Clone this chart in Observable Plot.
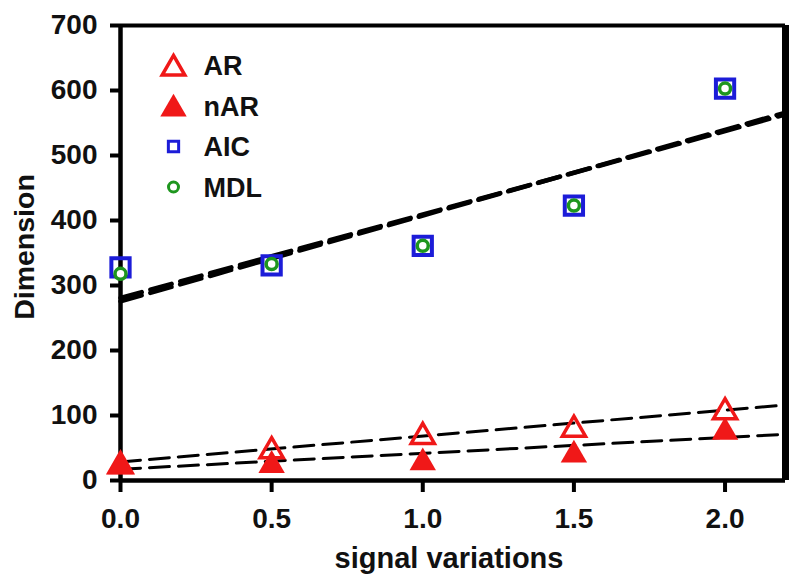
<!DOCTYPE html>
<html>
<head>
<meta charset="utf-8">
<script src="https://cdn.jsdelivr.net/npm/d3@7"></script>
<script src="https://cdn.jsdelivr.net/npm/@observablehq/plot@0.6"></script>
<style>
  html, body { margin: 0; padding: 0; background: #fff; }
</style>
</head>
<body>
<div id="chart"></div>
<script>
// ---- data ----
const signalVariations = [0.0, 0.5, 1.0, 1.5, 2.0];
const arValues  = [27, 50, 72, 83, 110];
const narValues = [26, 28, 32, 44, 79];
const aicValues = [328, 331, 361, 423, 603];
const mdlValues = [318, 333, 361, 423, 603];
const xTicks = [0.0, 0.5, 1.0, 1.5, 2.0];
const yTicks = [0, 100, 200, 300, 400, 500, 600, 700];
const legendNames = ["AR", "nAR", "AIC", "MDL"];
const xDomain = [0, 2.2];
const yDomain = [0, 700];

const RED = "#f01818", BLUE = "#1c1cd8", GREEN = "#1e961e";

const rows = (ys) => signalVariations.map((x, i) => ({x, y: ys[i]}));
// least-squares fit, drawn across the whole x domain
function fitLine(ys) {
  const xs = signalVariations;
  const mx = d3.mean(xs), my = d3.mean(ys);
  const b = d3.sum(xs, (x, i) => (x - mx) * (ys[i] - my)) / d3.sum(xs, x => (x - mx) ** 2);
  const a = my - b * mx;
  return xDomain.map(x => ({x, y: a + b * x}));
}

const legendStyle = {
  AR:  {symbol: "triangle", r: 8.4, stroke: RED, fill: "white", strokeWidth: 3.5},
  nAR: {symbol: "triangle", r: 9.8, fill: RED, stroke: "none"},
  AIC: {symbol: "square", r: 5.8, stroke: BLUE, fill: "none", strokeWidth: 3},
  MDL: {symbol: "circle", r: 5, stroke: GREEN, fill: "none", strokeWidth: 3}
};

const legendMarks = legendNames.flatMap((name, i) => [
  Plot.dot([name], {frameAnchor: "top-left", dx: 53, dy: 40 + i * 40.5 + (name === "AR" || name === "nAR" ? 3 : 0), ...legendStyle[name]}),
  Plot.text([name], {frameAnchor: "top-left", dx: 83, dy: 41 + i * 40.5, text: d => d, textAnchor: "start", lineAnchor: "middle", fontSize: 27, fontWeight: "bold", fill: "#111"})
]);

const chart = Plot.plot({
  width: 800,
  height: 587,
  marginLeft: 120,
  marginRight: 15,
  marginTop: 25,
  marginBottom: 107,
  x: {domain: xDomain},
  y: {domain: yDomain},
  style: {fontFamily: "'Liberation Sans', Arial, sans-serif", fontWeight: "bold", background: "white", overflow: "visible"},
  marks: [
    // regression lines
    Plot.line(fitLine(aicValues), {x: "x", y: "y", stroke: "black", strokeWidth: 4.5, strokeDasharray: "22,9"}),
    Plot.line(fitLine(mdlValues), {x: "x", y: "y", stroke: "black", strokeWidth: 4.5, strokeDasharray: "22,9"}),
    Plot.line(fitLine(arValues), {x: "x", y: "y", stroke: "black", strokeWidth: 3, strokeDasharray: "20,9"}),
    Plot.line(fitLine(narValues), {x: "x", y: "y", stroke: "black", strokeWidth: 3, strokeDasharray: "20,9"}),
    // frame
    Plot.ruleY([yDomain[1]], {stroke: "black", strokeWidth: 4}),
    Plot.ruleX([xDomain[1]], {stroke: "black", strokeWidth: 7}),
    Plot.ruleX([xDomain[0]], {stroke: "black", strokeWidth: 4.5}),
    Plot.ruleY([yDomain[0]], {stroke: "black", strokeWidth: 4.5}),
    // axes
    Plot.axisX(xTicks, {tickFormat: d3.format(".1f"), tickSize: 12, tickPadding: 16, strokeWidth: 4, fontSize: 28, fill: "#111", label: null}),
    Plot.axisY(yTicks, {tickSize: 10, tickPadding: 13, strokeWidth: 4, fontSize: 28, fill: "#111", label: null}),
    Plot.text(["Dimension"], {frameAnchor: "left", dx: -96, dy: -6, rotate: -90, textAnchor: "middle", lineAnchor: "middle", fontSize: 28.5, fontWeight: "bold", fill: "#111"}),
    Plot.text(["signal variations"], {frameAnchor: "bottom", dx: -4, dy: 78, textAnchor: "middle", lineAnchor: "middle", fontSize: 29, fontWeight: "bold", fill: "#111"}),
    // data points
    Plot.dot(rows(arValues), {x: "x", y: "y", symbol: "triangle", r: 8.6, stroke: RED, fill: "none", strokeWidth: 3.5, dy: 3}),
    Plot.dot(rows(narValues), {x: "x", y: "y", symbol: "triangle", r: 9.8, fill: RED, stroke: "none", dy: 3}),
    Plot.dot(rows(aicValues), {x: "x", y: "y", symbol: "square", r: 10.3, stroke: BLUE, fill: "none", strokeWidth: 4}),
    Plot.dot(rows(mdlValues), {x: "x", y: "y", symbol: "circle", r: 5.5, stroke: GREEN, fill: "white", strokeWidth: 3.5}),
    ...legendMarks
  ]
});
document.getElementById("chart").appendChild(chart);
</script>
</body>
</html>
